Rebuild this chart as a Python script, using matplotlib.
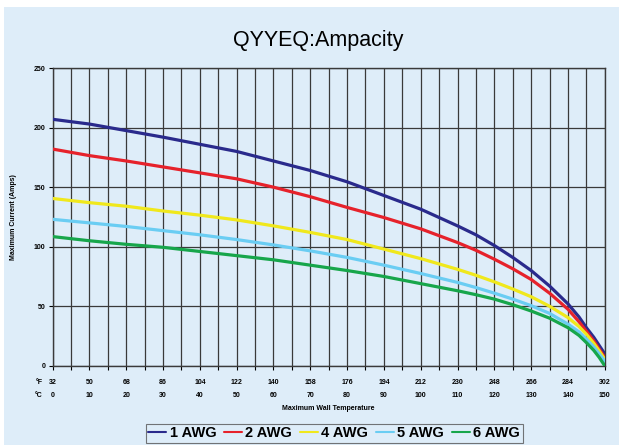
import matplotlib
matplotlib.use('Agg')
import matplotlib.pyplot as plt
from matplotlib.patches import Rectangle

matplotlib.rc('font', family='Liberation Sans')

# Maximum wall temperature (deg C) and allowed current (A) for each gauge
temp_c = [0, 10, 20, 30, 40, 50, 60, 70, 80, 90, 100, 110, 115, 120, 125, 130, 135, 140, 143, 145, 147, 148.5, 150]
awg1 = [207, 203, 197.5, 192, 186, 180, 172, 164, 154.5, 143, 131.5, 117.5, 110, 101, 91, 80, 67, 52, 41, 32, 24, 17, 10]
awg2 = [182, 176.5, 172, 167, 162, 157, 150, 142, 133, 124.5, 115, 103.5, 97, 89.5, 81.5, 72.5, 61, 47.5, 37, 29, 21, 14, 7]
awg4 = [140.5, 137, 134, 130, 126.5, 122.5, 117.5, 112, 106, 98, 90, 81, 76, 70.5, 64.5, 58, 50, 40.5, 33, 26.5, 19, 12.5, 5.5]
awg5 = [123, 120, 117, 113.5, 110, 106, 101.5, 96.5, 91, 84.5, 77.5, 70, 65.7, 61, 56, 50.5, 44, 35, 28.5, 22.5, 16, 10, 4]
awg6 = [108.5, 105, 102, 99.5, 96, 92.5, 89, 84.5, 80, 75, 69, 63, 59.7, 56, 51.3, 46, 40, 32, 25.5, 19.5, 13, 7, 0]

series = [awg1, awg2, awg4, awg5, awg6]
names = ['1 AWG', '2 AWG', '4 AWG', '5 AWG', '6 AWG']
colors = ['#2a2a8c', '#e6222b', '#f0e81c', '#6acdf3', '#17a64b']

c_ticks = list(range(0, 151, 10))
f_ticks = [32, 50, 68, 86, 104, 122, 140, 158, 176, 194, 212, 230, 248, 266, 284, 302]

fig = plt.figure(figsize=(6.19, 4.45), dpi=100, facecolor='white')
fig.patches.append(Rectangle((0.006, 0.0), 0.994, 0.985, transform=fig.transFigure,
                             facecolor='#deedf9', edgecolor='none', zorder=-10))

ax = fig.add_axes([0.085, 0.178, 0.892, 0.669])
ax.set_facecolor('#deedf9')

for vals, name, col in zip(series, names, colors):
    ax.plot(temp_c, vals, color=col, lw=2.3, label=name, solid_capstyle='round',
            solid_joinstyle='round', zorder=3)

ax.set_xlim(0, 150)
ax.set_ylim(0, 250)
ax.set_xticks(range(0, 151, 5), minor=True)
ax.set_xticks(c_ticks)
ax.set_yticks(range(0, 251, 50))
ax.grid(True, which='both', axis='x', color='#3a3a3a', lw=0.9)
ax.grid(True, which='major', axis='y', color='#3a3a3a', lw=0.9)
for s in ax.spines.values():
    s.set_color('#3a3a3a')
    s.set_linewidth(1.0)

ax.tick_params(axis='y', length=3, width=0.8, labelsize=5, pad=2)
for t in ax.get_yticklabels():
    t.set_fontweight('bold')
ax.tick_params(axis='x', which='both', length=3, width=0.8, labelbottom=False)

# two rows of labels: Fahrenheit above Celsius
for c, f in zip(c_ticks, f_ticks):
    ax.text(c, -0.055, str(f), transform=ax.get_xaxis_transform(), ha='center', va='center',
            fontsize=5, fontweight='bold')
    ax.text(c, -0.1, str(c), transform=ax.get_xaxis_transform(), ha='center', va='center',
            fontsize=5, fontweight='bold')
ax.text(-0.018, -0.055, '°F', transform=ax.transAxes, ha='right', va='center',
        fontsize=5, fontweight='bold')
ax.text(-0.018, -0.1, '°C', transform=ax.transAxes, ha='right', va='center',
        fontsize=5, fontweight='bold')

ax.text(0.5, -0.145, 'Maximum Wall Temperature', transform=ax.transAxes, ha='center',
        va='center', fontsize=5, fontweight='bold')
ax.set_ylabel('Maximum Current (Amps)', fontsize=5, fontweight='bold', labelpad=12)

fig.text(0.514, 0.91, 'QYYEQ:Ampacity', ha='center', va='center', fontsize=15.5)

leg = fig.legend(loc='center', bbox_to_anchor=(0.54, 0.026), ncol=5, frameon=True,
                 handlelength=1.2, handletextpad=0.25, columnspacing=0.55,
                 borderpad=0.2, fancybox=False, prop={'weight': 'bold', 'size': 10.5})
leg.get_frame().set_edgecolor('#555555')
leg.get_frame().set_facecolor('#deedf9')
leg.get_frame().set_linewidth(0.8)
for ln in leg.get_lines():
    ln.set_linewidth(1.5)

fig.savefig('out.png', dpi=100, facecolor=fig.get_facecolor())
